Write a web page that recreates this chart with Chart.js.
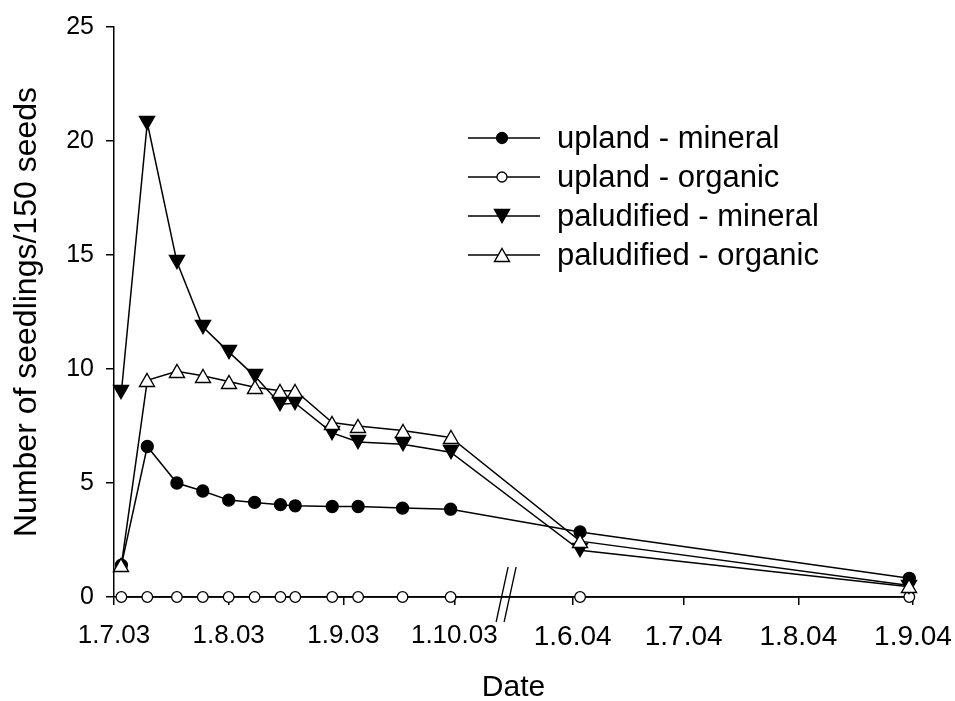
<!DOCTYPE html>
<html>
<head>
<meta charset="utf-8">
<script src="https://cdn.jsdelivr.net/npm/chart.js@4/dist/chart.umd.min.js"></script>
<style>
html,body{margin:0;padding:0;background:#fff;}
#wrap{width:955px;height:701px;position:relative;}
</style>
</head>
<body>
<div id="wrap"><canvas id="c" width="955" height="701"></canvas></div>
<script>
// ---- data ----
const sampleDates = ['2003-07-03','2003-07-10','2003-07-18','2003-07-25','2003-08-01','2003-08-08','2003-08-15','2003-08-19','2003-08-29','2003-09-05','2003-09-17','2003-09-30','2004-06-03','2004-08-31'];
const uplandMineral = [1.4, 6.6, 5.0, 4.65, 4.25, 4.15, 4.05, 4.0, 3.97, 3.97, 3.9, 3.85, 2.85, 0.82];
const uplandOrganic = [0, 0, 0, 0, 0, 0, 0, 0, 0, 0, 0, 0, 0, 0];
const paludMineral  = [9.0, 20.8, 14.7, 11.85, 10.75, 9.7, 8.45, 8.5, 7.2, 6.8, 6.7, 6.35, 2.05, 0.45];
const paludOrganic  = [1.4, 9.5, 9.9, 9.7, 9.45, 9.2, 9.05, 9.05, 7.65, 7.5, 7.3, 7.0, 2.45, 0.5];
const seriesLabels = ['upland - mineral','upland - organic','paludified - mineral','paludified - organic'];
const tickDates  = ['2003-07-01','2003-08-01','2003-09-01','2003-10-01','2004-06-01','2004-07-01','2004-08-01','2004-09-01'];
const tickLabels = ['1.7.03','1.8.03','1.9.03','1.10.03','1.6.04','1.7.04','1.8.04','1.9.04'];
const yTickValues = [0, 5, 10, 15, 20, 25];

// ---- broken date axis: 2003 season, then 2004 season ----
const DAY = 86400000;
const origin2003 = Date.UTC(2003, 6, 1);
const origin2004 = Date.UTC(2004, 5, 1);
const seasonGap = 124;      // axis days between 1.7.03 and 1.6.04
const breakAt = 106;        // axis day where the break mark sits
function axisDay(s) {
  const [y, m, d] = s.split('-').map(Number);
  const t = Date.UTC(y, m - 1, d);
  return y === 2003 ? (t - origin2003) / DAY : seasonGap + (t - origin2004) / DAY;
}
const xVals = sampleDates.map(axisDay);
const tickVals = tickDates.map(axisDay);
const toPoints = arr => arr.map((v, i) => ({x: xVals[i], y: v}));

const FONT = 'Liberation Sans, Arial, Helvetica, sans-serif';

// triangle symbols centred on their bounding box
function triangleImage(down, fill, w, h) {
  const c = document.createElement('canvas');
  c.width = 20; c.height = 18;
  const g = c.getContext('2d');
  const ox = (c.width - w) / 2, oy = (c.height - h) / 2;
  g.lineWidth = 1.4;
  g.strokeStyle = '#000';
  g.fillStyle = fill;
  g.beginPath();
  if (down) {
    g.moveTo(ox, oy); g.lineTo(ox + w, oy); g.lineTo(ox + w / 2, oy + h);
  } else {
    g.moveTo(ox + w / 2, oy); g.lineTo(ox + w, oy + h); g.lineTo(ox, oy + h);
  }
  g.closePath();
  g.fill();
  g.stroke();
  return c;
}
const triDown = triangleImage(true, '#000', 15, 13);
const triUp = triangleImage(false, '#fff', 15, 13);

const styles = [
  {pointStyle: 'circle', radius: 6, fill: '#000', lr: 5.5, order: 3},
  {pointStyle: 'circle', radius: 5.3, fill: '#fff', lr: 5, order: 2},
  {pointStyle: triDown, radius: 8, fill: '#000', lr: 8, order: 1},
  {pointStyle: triUp, radius: 8, fill: '#fff', lr: 8, order: 0}
];
const seriesData = [uplandMineral, uplandOrganic, paludMineral, paludOrganic];

const datasets = seriesData.map((arr, i) => ({
  label: seriesLabels[i],
  data: toPoints(arr),
  order: styles[i].order,
  clip: false,
  borderColor: '#000',
  borderWidth: 1.5,
  backgroundColor: styles[i].fill,
  pointStyle: styles[i].pointStyle,
  pointRadius: styles[i].radius,
  pointBackgroundColor: styles[i].fill,
  pointBorderColor: '#000',
  pointBorderWidth: 1.3,
  tension: 0,
  fill: false
}));

const crispPlugin = {
  id: 'crispSymbols',
  beforeDatasetsDraw(chart) { chart.ctx.imageSmoothingEnabled = false; },
  afterDatasetsDraw(chart) { chart.ctx.imageSmoothingEnabled = true; }
};

const legendPlugin = {
  id: 'lineLegend',
  afterDraw(chart) {
    const ctx = chart.ctx;
    const ca = chart.chartArea;
    const x0 = ca.left + 354, x1 = ca.left + 426, xm = ca.left + 388, xt = ca.left + 443;
    const rows = [138, 177, 216, 255];
    ctx.save();
    ctx.imageSmoothingEnabled = false;
    ctx.font = '31px ' + FONT;
    ctx.textBaseline = 'middle';
    ctx.textAlign = 'left';
    chart.data.datasets.forEach((ds, i) => {
      const y = rows[i];
      ctx.strokeStyle = '#000';
      ctx.lineWidth = 1.5;
      ctx.beginPath(); ctx.moveTo(x0, y); ctx.lineTo(x1, y); ctx.stroke();
      ctx.fillStyle = styles[i].fill;
      ctx.lineWidth = 1.3;
      Chart.helpers.drawPoint(ctx, {pointStyle: styles[i].pointStyle, radius: styles[i].lr, rotation: 0, borderWidth: 1.3}, xm, y);
      ctx.fillStyle = '#000';
      ctx.fillText(ds.label, xt, y + 1);
    });
    ctx.restore();
  }
};

const breakPlugin = {
  id: 'axisBreak',
  afterDraw(chart) {
    const ctx = chart.ctx;
    const xs = chart.scales.x;
    const bx = xs.getPixelForValue(breakAt);
    const yb = chart.chartArea.bottom;
    ctx.save();
    ctx.strokeStyle = '#000';
    ctx.lineWidth = 1.3;
    [-4, 4].forEach(off => {
      ctx.beginPath();
      ctx.moveTo(bx + off + 6, yb - 30);
      ctx.lineTo(bx + off - 6, yb + 25);
      ctx.stroke();
    });
    ctx.restore();
  }
};

new Chart(document.getElementById('c'), {
  type: 'line',
  data: {datasets},
  plugins: [crispPlugin, legendPlugin, breakPlugin],
  options: {
    responsive: false,
    animation: false,
    devicePixelRatio: 1,
    layout: {padding: {left: 0, top: 22, right: 42, bottom: 0}},
    plugins: {legend: {display: false}, tooltip: {enabled: false}},
    scales: {
      x: {
        type: 'linear',
        min: 0,
        max: axisDay('2004-09-01'),
        afterBuildTicks: s => { s.ticks = tickVals.map(v => ({value: v})); },
        afterFit: s => { s.height = 104; s.paddingLeft = 0; s.paddingRight = 0; },
        grid: {display: true, drawOnChartArea: false, drawTicks: true, tickLength: 8, color: '#000', lineWidth: 1.5},
        border: {display: true, color: '#000', width: 1.5},
        ticks: {
          autoSkip: false,
          maxRotation: 0,
          padding: 15,
          color: '#000',
          font: c => ({family: FONT, size: (c.tick && c.tick.value >= seasonGap) ? 28 : 26}),
          callback: v => { const i = tickVals.indexOf(v); return i >= 0 ? tickLabels[i] : ''; }
        },
        title: {display: true, text: 'Date', color: '#000', font: {family: FONT, size: 30, lineHeight: 1}, padding: {top: 0, bottom: -2}}
      },
      y: {
        min: 0,
        max: 25,
        afterBuildTicks: s => { s.ticks = yTickValues.map(v => ({value: v})); },
        afterFit: s => { s.width = 114; },
        grid: {display: true, drawOnChartArea: false, drawTicks: true, tickLength: 8, color: '#000', lineWidth: 1.5},
        border: {display: true, color: '#000', width: 1.5},
        ticks: {padding: 12, color: '#000', font: {family: FONT, size: 25}},
        title: {display: true, text: 'Number of seedlings/150 seeds', color: '#000', font: {family: FONT, size: 32, lineHeight: 1}, padding: {top: 11, bottom: 0}}
      }
    }
  }
});
</script>
</body>
</html>
